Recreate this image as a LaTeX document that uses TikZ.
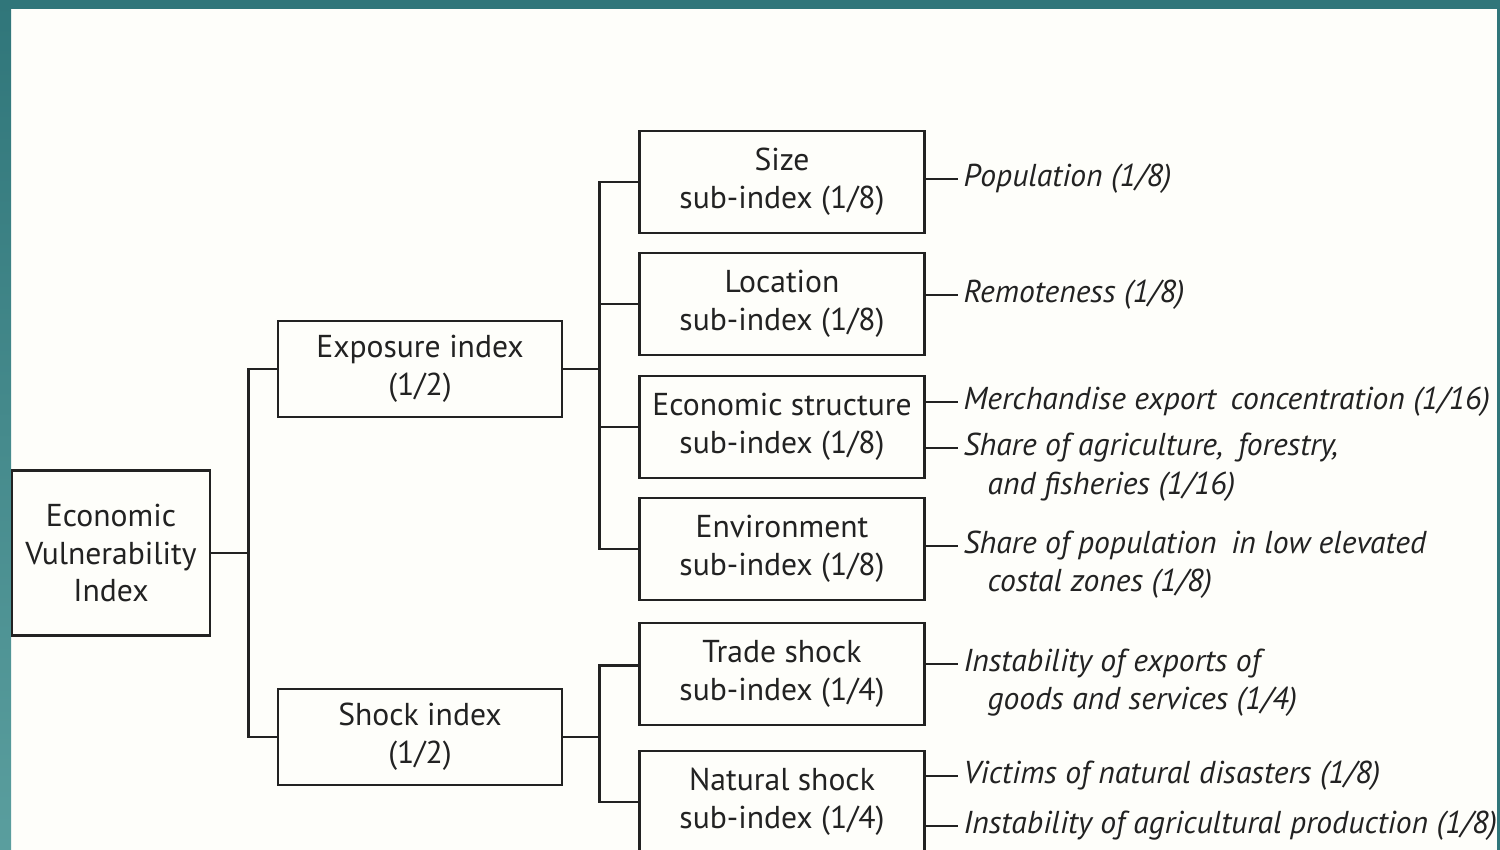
\documentclass[tikz,border=0pt]{standalone}
\usepackage{fontspec}
\setmainfont{PT Sans}
\usetikzlibrary{positioning}
\definecolor{tealdark}{RGB}{48,118,122}
\definecolor{teallight}{RGB}{90,158,158}
\definecolor{paper}{RGB}{254,254,250}
\definecolor{ink}{RGB}{34,34,34}

\begin{document}
\begin{tikzpicture}[x=0.2mm,y=-0.2mm,
	box/.style={draw=ink,line width=1.5pt,text=ink,align=center,inner sep=0pt,
		minimum width=57mm,minimum height=20.4mm,font=\fontsize{18}{21.6}\selectfont},
	leaf/.style={anchor=west,inner sep=3pt,text=ink,font=\fontsize{18}{21.6}\selectfont\itshape},
	wire/.style={draw=ink,line width=1.5pt}]

\useasboundingbox (0,0) rectangle (1500,850);
\clip (0,0) rectangle (1500,850);
\fill[paper] (0,0) rectangle (1500,850);
\shade[top color=tealdark,bottom color=teallight] (0,0) rectangle (11,850);
\fill[tealdark] (0,0) rectangle (1500,9);
\fill[tealdark] (1497,0) rectangle (1500,850);

% main index
\node[box,minimum width=39.6mm,minimum height=33mm] (evi) at (111,553) {Economic\\Vulnerability\\Index};

\node[box,minimum width=56.8mm,minimum height=19.2mm] (expo) at (420,369) {Exposure index\\(1/2)};
\node[box,minimum width=56.8mm,minimum height=19.2mm] (shock) at (420,737) {Shock index\\(1/2)};

% sub-indices
\node[box] (size) at (782,182) {Size\\sub-index (1/8)};
\node[box] (loc) at (782,304) {Location\\sub-index (1/8)};
\node[box] (econ) at (782,427) {Economic structure\\sub-index (1/8)};
\node[box] (env) at (782,549) {Environment\\sub-index (1/8)};
\node[box] (trade) at (782,674) {Trade shock\\sub-index (1/4)};
\node[box] (nat) at (782,802) {Natural shock\\sub-index (1/4)};

% components
\node[leaf] (l1) at (958,179) {Population (1/8)};
\node[leaf] (l2) at (958,295) {Remoteness (1/8)};
\node[leaf] (l3) at (958,402) {Merchandise export\hspace{0.2em} concentration (1/16)};
\node[leaf] (l4) at (958,448) {Share of agriculture,\hspace{0.2em} forestry,};
\node[leaf] (l4b) at (982,487) {and fisheries (1/16)};
\node[leaf] (l5) at (958,546) {Share of population\hspace{0.2em} in low elevated};
\node[leaf] (l5b) at (982,584) {costal zones (1/8)};
\node[leaf] (l6) at (958,664) {Instability of exports of};
\node[leaf] (l6b) at (982,702) {goods and services (1/4)};
\node[leaf] (l7) at (958,776) {Victims of natural disasters (1/8)};
\node[leaf] (l8) at (958,826) {Instability of agricultural production (1/8)};

\draw[wire] (evi.east) -- ++(37,0) coordinate (b1);
\draw[wire] (b1) |- (expo.west);
\draw[wire] (b1) |- (shock.west);

\draw[wire] (expo.east) -- ++(36,0) coordinate (b2);
\foreach \n in {size,loc,econ,env}
{
	\draw[wire] (b2) |- (\n.west);
};

\draw[wire] (shock.east) -- ++(36,0) coordinate (b3);
\draw[wire] (b3) |- ([yshift=5pt]trade.west);
\draw[wire] (b3) |- (nat.west);

\foreach \b/\l in {size/l1, loc/l2, econ/l3, econ/l4, env/l5, trade/l6, nat/l7, nat/l8}
{
	\draw[wire] (\b.east |- \l.west) -- (\l.west);
};
\end{tikzpicture}
\end{document}
